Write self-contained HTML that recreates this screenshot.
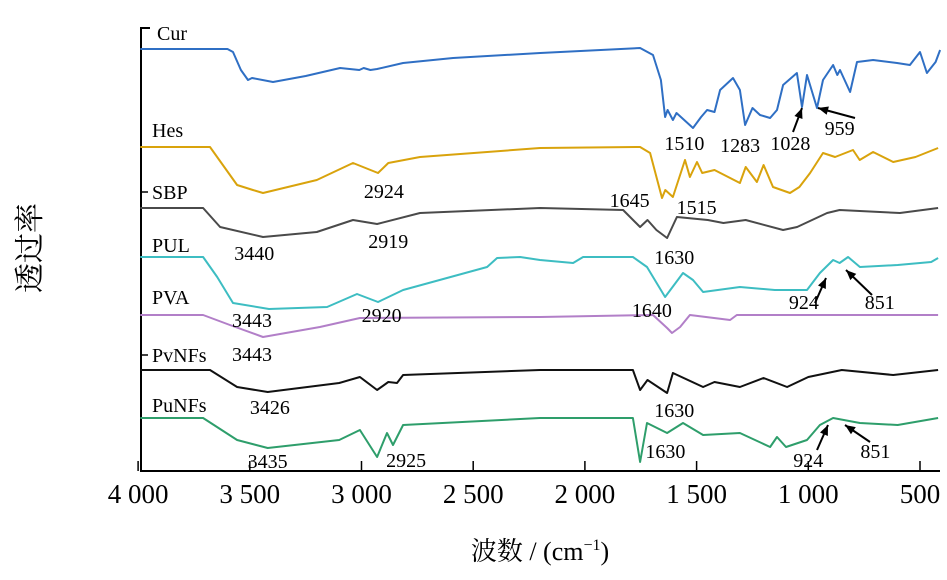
<!DOCTYPE html>
<html><head><meta charset="utf-8"><style>
html,body{margin:0;padding:0;background:#fff;}
svg{display:block;font-family:"Liberation Serif","Noto Serif CJK SC",serif;}
</style></head><body>
<svg id="chart" width="947" height="580" viewBox="0 0 947 580" xmlns="http://www.w3.org/2000/svg">
<g id="axes"></g>
<g id="series"></g>
<g id="notes"></g>
<text x="0" y="0" transform="translate(40,248) rotate(-90)" font-size="30" text-anchor="middle" font-family="'Liberation Serif','Noto Serif CJK SC',serif">透过率</text>
<text x="540" y="560" font-size="26" text-anchor="middle" font-family="'Liberation Serif','Noto Serif CJK SC',serif">波数 / (cm<tspan dy="-10" font-size="16">−1</tspan><tspan dy="10">)</tspan></text>
</svg>
<script>
const xTicks = [4000,3500,3000,2500,2000,1500,1000,500];
const xTickLabels = ["4 000","3 500","3 000","2 500","2 000","1 500","1 000","500"];
const seriesNames = ["Cur","Hes","SBP","PUL","PVA","PvNFs","PuNFs"];
const seriesColors = ["#2f6fc4","#d9a30c","#4a4a4a","#3dbdc2","#b27fc8","#111111","#2e9e6b"];
// wavenumbers / stacked offset depth (arbitrary units, larger = lower on plot) per series
const curWn = [3990,3600,3575,3540,3508,3490,3396,3250,3096,3010,2990,2960,2930,2814,2590,2200,1753,1695,1660,1641,1630,1606,1590,1516,1480,1453,1420,1395,1337,1306,1283,1250,1216,1171,1140,1113,1051,1028,1006,961,934,889,870,858,813,782,710,603,545,500,469,430,410];
const curT = [49,49,52,70,80,78,82,76,68,70,68,70,69,63,58,53,48,55,80,117,110,120,113,128,117,110,112,90,78,90,125,108,115,118,110,85,73,107,75,108,80,65,75,70,92,62,60,63,65,52,73,62,50];
const hesWn = [3990,3678,3557,3486,3441,3200,3038,2926,2880,2738,2201,1753,1708,1655,1640,1606,1552,1530,1498,1475,1420,1306,1280,1230,1200,1158,1082,1040,992,934,880,800,770,710,620,520,419];
const hesT = [147,147,185,190,193,180,163,173,163,157,148,147,153,198,190,197,160,177,162,173,170,183,167,182,165,187,193,187,173,153,157,150,160,152,162,157,148];
const sbpWn = [3990,3709,3633,3441,3200,3038,2930,2738,2200,1829,1753,1720,1680,1632,1588,1450,1380,1280,1113,1050,916,860,590,419];
const sbpT = [208,208,227,237,232,220,224,213,208,210,227,220,230,238,217,220,223,220,230,227,213,210,213,208];
const pulWn = [3990,3709,3646,3575,3414,3154,3020,2926,2814,2438,2393,2290,2201,2053,2008,1785,1722,1641,1561,1516,1471,1306,1150,1006,948,889,860,822,769,600,450,419];
const pulT = [257,257,277,303,309,307,294,302,290,267,258,257,260,263,257,257,267,297,273,280,292,287,290,290,273,260,263,257,267,265,262,258];
const pvaWn = [3990,3709,3589,3441,3186,3007,2200,1695,1632,1610,1574,1530,1350,1320,419];
const pvaT = [315,315,325,337,327,318,317,315,328,333,327,315,320,315,315];
const pvnWn = [3990,3678,3557,3420,3100,3007,2930,2880,2841,2814,2201,1785,1753,1720,1632,1606,1471,1420,1306,1200,1095,1000,850,620,419];
const pvnT = [370,370,387,392,383,377,390,382,383,375,370,370,390,380,393,373,387,382,387,378,387,377,370,375,370];
const punWn = [3990,3709,3557,3420,3100,3007,2930,2886,2859,2814,2201,1785,1753,1722,1632,1561,1471,1306,1171,1140,1100,1006,948,889,769,600,419];
const punT = [418,418,440,448,440,430,457,433,445,425,418,418,462,423,433,423,435,433,447,437,447,440,425,418,423,425,418];
const seriesWn = [curWn,hesWn,sbpWn,pulWn,pvaWn,pvnWn,punWn];
const seriesT = [curT,hesT,sbpT,pulT,pvaT,pvnT,punT];
const labelX = [157,152,152,152,152,152,152];
const labelY = [40,137,199,252,304,362,412];
const noteText = ["2924","3440","2919","1630","1645","1515","1510","1283","1028","959","3443","2920","1640","924","851","3443","3426","1630","3435","2925","1630","924","851"];
const noteWn = [2900,3480,2880,1600,1800,1500,1555,1305,1080,860,3490,2910,1700,1020,680,3490,3410,1600,3420,2800,1640,1000,700];
const noteT = [198,260,248,264,207,214,150,152,150,135,327,322,317,309,309,361,414,417,468,467,458,467,458];
const ns = "http://www.w3.org/2000/svg";
const X0 = 920, KX = 0.2234, Y0 = 0, KY = 1;
function xs(wn){ return X0 - (wn - 500) * KX; }
function ys(t){ return Y0 + t * KY; }
function mk(tag, attrs, parent){ const e=document.createElementNS(ns,tag); for(const k in attrs) e.setAttribute(k,attrs[k]); parent.appendChild(e); return e; }
const axes=document.getElementById('axes');
const yAxis = mk('path',{d:"M150 28 H141 V471 H940",fill:"none",stroke:"#000","stroke-width":2},axes);


[192,355].forEach(function(yy){
  const t=mk('line',{x1:141,x2:148,y1:yy,y2:yy,stroke:"#000","stroke-width":1.5},axes);
  
  
});
xTicks.forEach(function(w,i){
  const x=xs(w);
  const t=mk('line',{x1:x,x2:x,y1:471,y2:461,stroke:"#000","stroke-width":1.5},axes);
  
  
  const l=mk('text',{x:x,y:503,"font-size":27,"text-anchor":"middle"},axes);
  l.textContent=xTickLabels[i];
  
  
});
const sg=document.getElementById('series');
seriesNames.forEach(function(n,i){
  const wn=seriesWn[i], tv=seriesT[i];
  let d="";
  for(let j=0;j<wn.length;j++){ d+=(j?"L":"M")+xs(wn[j]).toFixed(1)+" "+ys(tv[j]).toFixed(1); }
  const p=mk('path',{d:d,fill:"none",stroke:seriesColors[i],"stroke-width":2,"stroke-linejoin":"round"},sg);
  
  
  const l=mk('text',{x:labelX[i],y:labelY[i],"font-size":20},sg);
  l.textContent=n;
  
  
});
const ng=document.getElementById('notes');
noteText.forEach(function(t,i){
  const l=mk('text',{x:xs(noteWn[i]),y:ys(noteT[i]),"font-size":20,"text-anchor":"middle"},ng);
  l.textContent=t;
  
  
});
const arrows=[[793,132,802,108],[855,118,818,108],[815,303,826,278],[872,295,846,270],[817,450,828,425],[870,442,845,425]];
arrows.forEach(function(a){
  const g=mk('g',{},ng);
  
  
  mk('line',{x1:a[0],y1:a[1],x2:a[2],y2:a[3],stroke:"#000","stroke-width":2},g);
  const ang=Math.atan2(a[3]-a[1],a[2]-a[0]);
  const L=11,W=0.4;
  const p1=[a[2]-L*Math.cos(ang-W),a[3]-L*Math.sin(ang-W)];
  const p2=[a[2]-L*Math.cos(ang+W),a[3]-L*Math.sin(ang+W)];
  mk('path',{d:"M"+a[2]+" "+a[3]+"L"+p1[0]+" "+p1[1]+"L"+p2[0]+" "+p2[1]+"Z",fill:"#000"},g);
});
</script>
</body></html>
